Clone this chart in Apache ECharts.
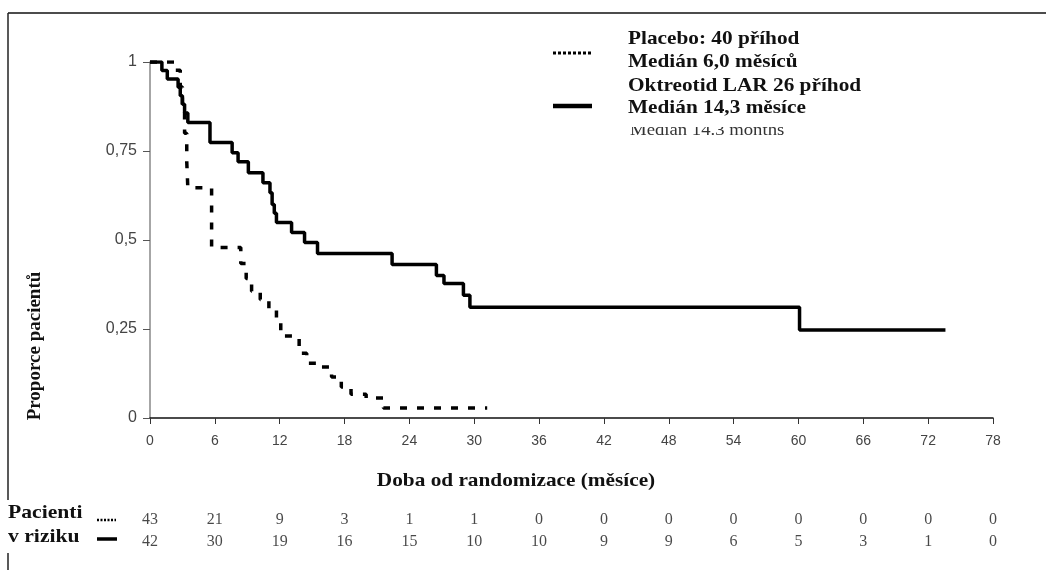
<!DOCTYPE html>
<html>
<head>
<meta charset="utf-8">
<script src="https://cdn.jsdelivr.net/npm/echarts@6/dist/echarts.min.js"></script>
<style>
    html, body { margin: 0; padding: 0; background: #fff; }
    #chart { width: 1046px; height: 570px; }
</style>
</head>
<body>
<div id="chart"></div>
<script>
// months on the x axis (ticks + risk table columns)
let monthTicks = [0, 6, 12, 18, 24, 30, 36, 42, 48, 54, 60, 66, 72, 78];
let riskPlacebo = [43, 21, 9, 3, 1, 1, 0, 0, 0, 0, 0, 0, 0, 0];
let riskOktreotid = [42, 30, 19, 16, 15, 10, 10, 9, 9, 6, 5, 3, 1, 0];

// Kaplan-Meier steps: time of event (months) and survival after it
let placeboTime = [0, 2.3, 2.8, 3.0, 3.2, 3.4, 3.5, 5.7, 8.4, 8.9, 9.4, 10.2, 11.0, 11.7, 12.1, 13.8, 14.5, 15.5, 16.8, 17.7, 18.6, 20.0, 21.6, 31.2];
let placeboSurv = [1, 0.977, 0.93, 0.88, 0.8, 0.72, 0.647, 0.479, 0.434, 0.392, 0.356, 0.333, 0.305, 0.27, 0.23, 0.182, 0.154, 0.143, 0.115, 0.087, 0.067, 0.056, 0.028, 0.028];

let oktTime = [0, 1.1, 1.6, 2.6, 2.8, 3.0, 3.2, 3.5, 5.55, 7.6, 8.15, 9.1, 10.45, 11.1, 11.3, 11.5, 11.7, 13.1, 14.3, 15.5, 22.4, 26.5, 27.2, 29.0, 29.6, 60.1, 73.6];
let oktSurv = [1, 0.976, 0.952, 0.929, 0.905, 0.881, 0.857, 0.83, 0.774, 0.745, 0.72, 0.689, 0.661, 0.633, 0.6, 0.575, 0.549, 0.521, 0.493, 0.462, 0.431, 0.40, 0.378, 0.345, 0.311, 0.247, 0.247];

let legendLines = ["Placebo: 40 příhod", "Medián 6,0 měsíců", "Oktreotid LAR 26 příhod", "Medián 14,3 měsíce"];

function zip(a, b) {
    return a.map(function (v, i) { return [v, b[i]]; });
}

function riskRow(values, row) {
    return values.map(function (v, i) { return [monthTicks[i], row, v]; });
}

let serifBold = "bold 19px 'Liberation Serif', 'Times New Roman', serif";

// bold serif label, a bit wider than the font draws it
function label(text, x, y, opts) {
    opts = opts || {};
    return {
        type: "text", x: x, y: y, scaleX: opts.scaleX || 1.12, rotation: opts.rotation || 0,
        style: {text: text, font: serifBold, fill: "#111", align: opts.align || "left", verticalAlign: "middle"}
    };
}

let chart = echarts.init(document.getElementById("chart"), null, {renderer: "canvas"});

let option = {
    animation: false,
    backgroundColor: "#fff",
    grid: [
        {left: 150, right: 53, top: 62, bottom: 152},
        {left: 150, right: 53, top: 520, bottom: 28}
    ],
    xAxis: [
        {
            type: "value", gridIndex: 0, min: 0, max: 78, interval: 6,
            splitLine: {show: false},
            axisLine: {onZero: false, lineStyle: {color: "#111", width: 1.5}},
            axisTick: {length: 6, lineStyle: {color: "#333"}},
            axisLabel: {
                margin: 16, fontSize: 14, color: "#444",
                fontFamily: "'Liberation Sans Narrow', 'Liberation Sans', sans-serif"
            }
        },
        {type: "value", gridIndex: 1, min: 0, max: 78, show: false}
    ],
    yAxis: [
        {
            type: "value", gridIndex: 0, min: 0, max: 1, interval: 0.25,
            splitLine: {show: false},
            axisLine: {show: true, lineStyle: {color: "#888", width: 1.5}},
            axisTick: {show: true, length: 7, lineStyle: {color: "#555"}},
            axisLabel: {
                margin: 13, fontSize: 16, color: "#444",
                fontFamily: "'Liberation Sans', Arial, sans-serif",
                formatter: function (v) { return String(v).replace(".", ","); }
            }
        },
        {type: "value", gridIndex: 1, min: 0, max: 1, show: false}
    ],
    series: [
        {
            name: "Placebo", type: "line", step: "end", showSymbol: false,
            xAxisIndex: 0, yAxisIndex: 0,
            data: zip(placeboTime, placeboSurv),
            lineStyle: {color: "#000", width: 3.5, type: [7, 10], cap: "butt"}
        },
        {
            name: "Oktreotid LAR", type: "line", step: "end", showSymbol: false,
            xAxisIndex: 0, yAxisIndex: 0,
            data: zip(oktTime, oktSurv),
            lineStyle: {color: "#000", width: 3.5}
        },
        {
            type: "scatter", xAxisIndex: 1, yAxisIndex: 1, symbolSize: 1,
            itemStyle: {color: "rgba(0,0,0,0)"},
            data: riskRow(riskPlacebo, 1).concat(riskRow(riskOktreotid, 0)),
            label: {
                show: true, position: "inside", color: "#1a1a1a", fontSize: 16,
                fontFamily: "'Liberation Serif', 'Times New Roman', serif",
                formatter: function (p) { return p.value[2]; }
            }
        }
    ],
    graphic: [
        // frame
        {type: "line", shape: {x1: 8, y1: 13, x2: 1046, y2: 13}, style: {stroke: "#111", lineWidth: 1.5}},
        {type: "line", shape: {x1: 8, y1: 13, x2: 8, y2: 500}, style: {stroke: "#222", lineWidth: 1.5}},
        {type: "line", shape: {x1: 8, y1: 553, x2: 8, y2: 570}, style: {stroke: "#222", lineWidth: 1.5}},
        // axis titles
        label("Proporce pacientů", 35, 346, {rotation: Math.PI / 2, align: "center", scaleX: 1}),
        label("Doba od randomizace (měsíce)", 516, 481, {align: "center"}),
        // legend
        {type: "line", shape: {x1: 553, y1: 53, x2: 592, y2: 53}, style: {stroke: "#000", lineWidth: 3, lineDash: [3, 2]}},
        {type: "line", shape: {x1: 553, y1: 106, x2: 592, y2: 106}, style: {stroke: "#000", lineWidth: 4.5}},
        label(legendLines[0], 628, 39),
        label(legendLines[1], 628, 62),
        label(legendLines[2], 628, 86),
        label(legendLines[3], 628, 108),
        // half-hidden leftover line under the legend
        {type: "text", x: 630, y: 131, scaleX: 1.1, style: {text: "Medián 14.3 months", font: "17px 'Liberation Serif', serif", fill: "#333", verticalAlign: "middle"}},
        {type: "rect", shape: {x: 620, y: 118, width: 260, height: 9}, style: {fill: "#fff"}},
        // risk table header
        label("Pacienti", 8, 513, {scaleX: 1.14}),
        label("v riziku", 8, 537, {scaleX: 1.14}),
        {type: "line", shape: {x1: 97, y1: 520, x2: 116, y2: 520}, style: {stroke: "#000", lineWidth: 2.5, lineDash: [2, 1.5]}},
        {type: "line", shape: {x1: 97, y1: 539, x2: 117, y2: 539}, style: {stroke: "#000", lineWidth: 3.5}}
    ]
};

chart.setOption(option);
</script>
</body>
</html>
